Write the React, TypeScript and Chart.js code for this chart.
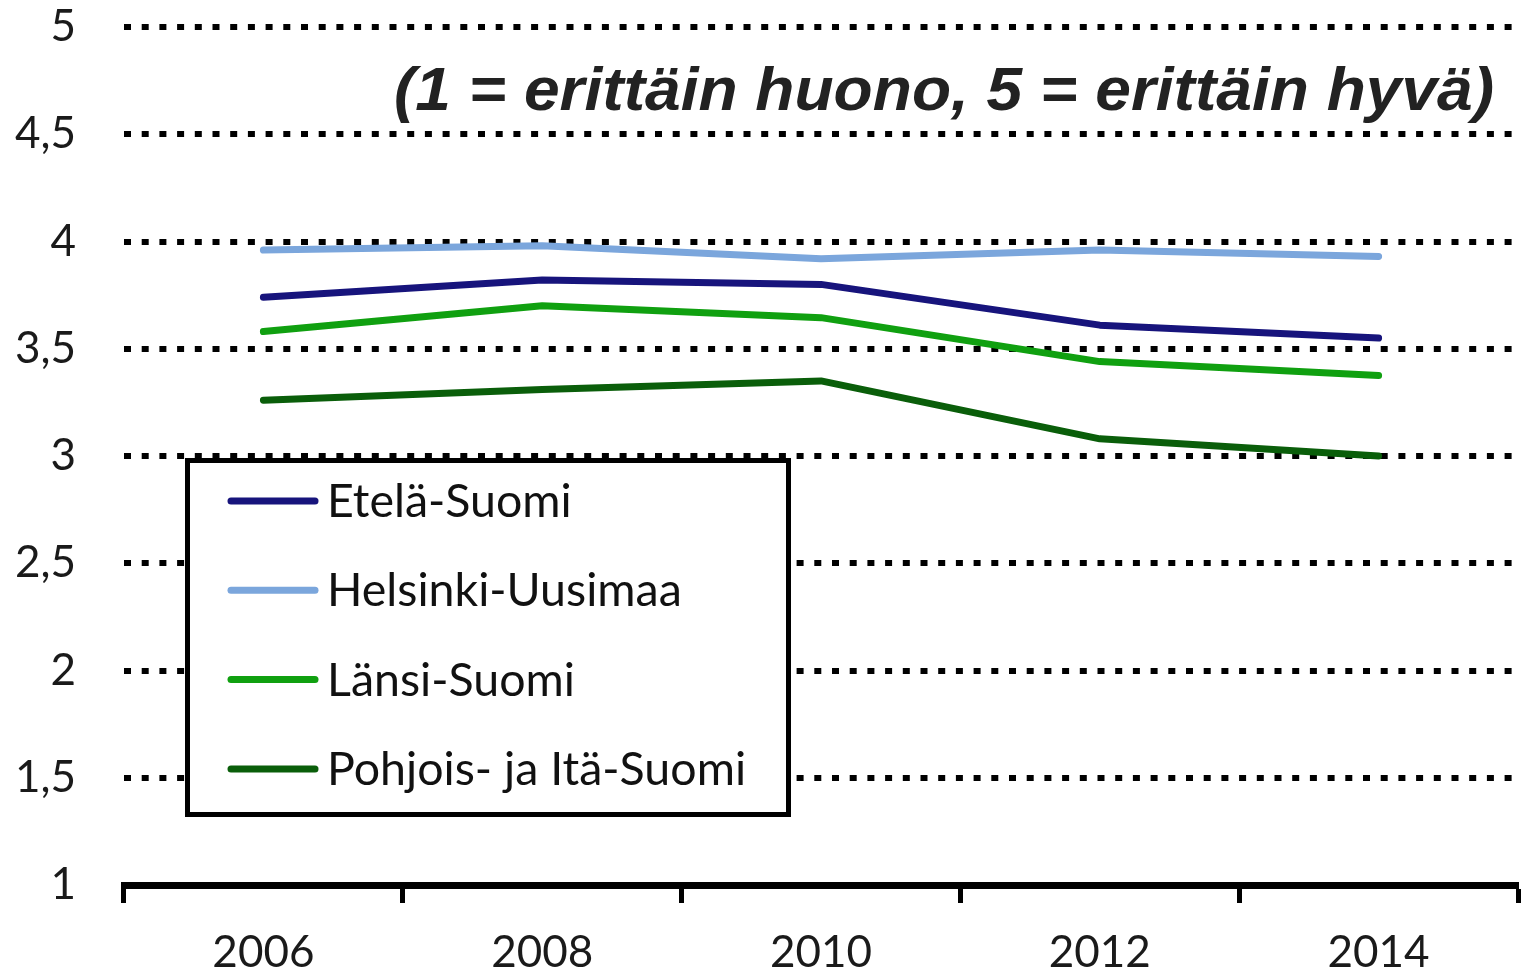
import React, { useEffect, useRef } from "react";
import { Chart, registerables } from "chart.js";

Chart.register(...registerables);

const years = ["2006", "2008", "2010", "2012", "2014"];
const etelaSuomi = [3.74, 3.82, 3.8, 3.61, 3.55];
const helsinkiUusimaa = [3.96, 3.98, 3.92, 3.96, 3.93];
const lansiSuomi = [3.58, 3.7, 3.645, 3.44, 3.375];
const pohjoisItaSuomi = [3.26, 3.31, 3.35, 3.08, 3.0];
const seriesNames = ["Etelä-Suomi", "Helsinki-Uusimaa", "Länsi-Suomi", "Pohjois- ja Itä-Suomi"];
const seriesColors = ["#17147c", "#7ba6dc", "#10a010", "#0a5e0a"];
const yMin = 1;
const yMax = 5;
const yStep = 0.5;
const titleText = "(1 = erittäin huono, 5 = erittäin hyvä)";

const legendPlugin = {
  id: "legendBox",
  afterDatasetsDraw(chart: any) {
    const ctx = chart.ctx;
    ctx.save();
    ctx.fillStyle = "#ffffff";
    ctx.fillRect(186, 459, 604, 357);
    ctx.lineWidth = 5;
    ctx.strokeStyle = "#000000";
    ctx.strokeRect(187.5, 460.5, 601, 354);
    chart.data.datasets.forEach((ds: any, i: number) => {
      const y = 501 + i * 89.3;
      ctx.beginPath();
      ctx.lineCap = "round";
      ctx.lineWidth = 7;
      ctx.strokeStyle = ds.borderColor;
      ctx.moveTo(231, y);
      ctx.lineTo(315, y);
      ctx.stroke();
      ctx.fillStyle = "#111111";
      ctx.font = "46.5px Lato";
      ctx.textBaseline = "middle";
      ctx.textAlign = "left";
      ctx.fillText(ds.label, 327, y + 1);
    });
    ctx.restore();
  },
};

const titlePlugin = {
  id: "titleText",
  afterDraw(chart: any) {
    const ctx = chart.ctx;
    ctx.save();
    ctx.font = 'italic bold 62px "Liberation Sans"';
    ctx.fillStyle = "#222222";
    ctx.textBaseline = "alphabetic";
    ctx.textAlign = "left";
    const w = ctx.measureText(titleText).width;
    const target = 1100;
    const sx = target / w;
    ctx.translate(394, 110);
    ctx.scale(sx, 1);
    ctx.fillText(titleText, 0, 0);
    ctx.restore();
  },
};

export default function App() {
  const ref = useRef<HTMLCanvasElement | null>(null);
  useEffect(() => {
    document.body.style.margin = "0";
    const canvas = ref.current;
    if (!canvas) return;
    const seriesData = [etelaSuomi, helsinkiUusimaa, lansiSuomi, pohjoisItaSuomi];
    const chart = new Chart(canvas, {
      type: "line",
      data: {
        labels: years,
        datasets: seriesNames.map((name, i) => ({
          label: name,
          data: seriesData[i],
          borderColor: seriesColors[i],
          backgroundColor: seriesColors[i],
          borderWidth: 7,
          pointRadius: 0,
          tension: 0,
          borderCapStyle: "round",
          borderJoinStyle: "round",
        })),
      },
      options: {
        animation: false,
        responsive: true,
        maintainAspectRatio: false,
        layout: { padding: { top: 27, right: 13, left: 0, bottom: 0 } },
        plugins: {
          legend: { display: false },
          tooltip: { enabled: false },
          title: { display: false },
        },
        scales: {
          x: {
            type: "category",
            offset: true,
            afterFit: (s: any) => {
              s.height = 91;
            },
            grid: {
              offset: true,
              drawOnChartArea: false,
              drawTicks: true,
              tickLength: 18,
              tickWidth: 5,
              tickColor: "#000000",
            },
            border: { display: true, width: 7, color: "#000000" },
            ticks: {
              color: "#1a1a1a",
              font: { family: "Lato", size: 44 },
              padding: 23,
              maxRotation: 0,
            },
          },
          y: {
            min: yMin,
            max: yMax,
            afterFit: (s: any) => {
              s.width = 124;
            },
            border: { display: false, dash: [7, 10.7] },
            grid: {
              color: "#000000",
              lineWidth: 6,
              drawTicks: true,
              tickLength: 48,
              tickColor: "rgba(0,0,0,0)",
            },
            ticks: {
              stepSize: yStep,
              color: "#1a1a1a",
              font: { family: "Lato", size: 44 },
              padding: 0,
              callback: (v: any) => String(v).replace(".", ","),
            },
          },
        },
      },
      plugins: [legendPlugin, titlePlugin],
    });
    return () => chart.destroy();
  }, []);
  return (
    <div style={{ width: 1531, height: 976, position: "relative" }}>
      <canvas ref={ref} />
    </div>
  );
}
